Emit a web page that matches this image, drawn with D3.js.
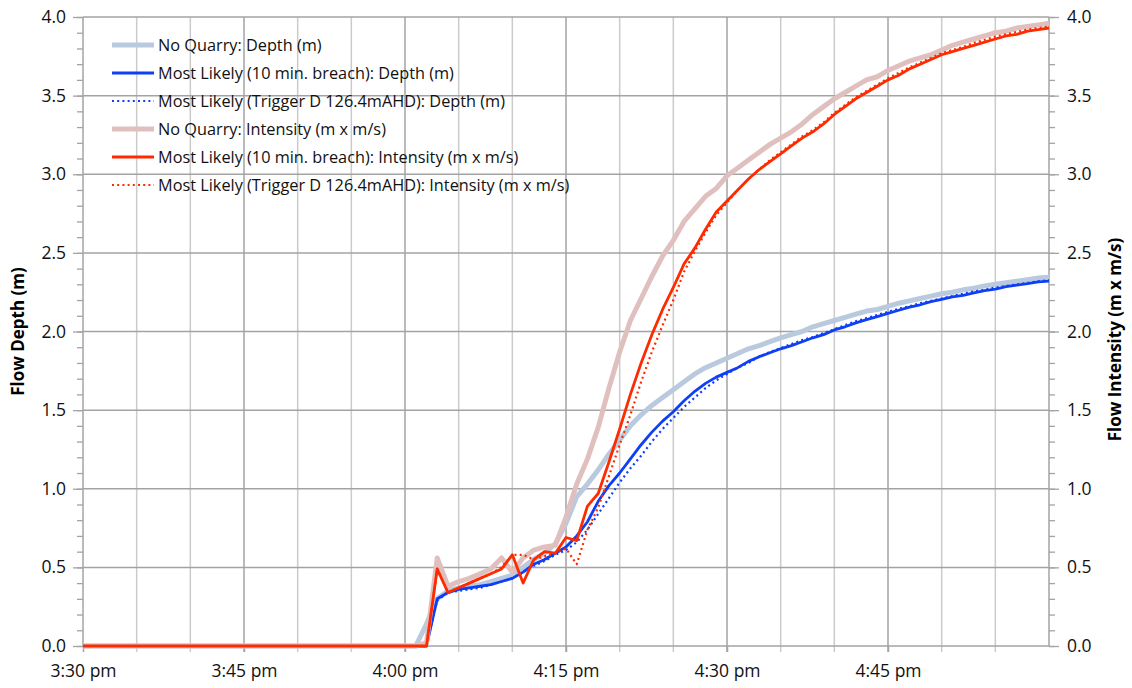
<!DOCTYPE html>
<html><head><meta charset="utf-8">
<script src="https://cdn.jsdelivr.net/npm/d3@7"></script>
<style>
html,body{margin:0;padding:0;background:#fff;}
svg{display:block;font-family:"Open Sans",sans-serif;}
</style></head>
<body><svg id="chart" width="1132" height="688"></svg>
<script>
// minutes after 3:30 pm
const minutes = [0,31,32,33,34,35,36,37,38,39,40,41,42,43,44,45,46,47,48,49,50,51,52,53,54,55,56,57,58,59,60,61,62,63,64,65,66,67,68,69,70,71,72,73,74,75,76,77,78,79,80,81,82,83,84,85,86,87,88,89,90];

const noQuarryDepth = [0,0.00,0.14,0.30,0.35,0.37,0.38,0.39,0.41,0.43,0.45,0.50,0.55,0.59,0.65,0.78,0.95,1.03,1.12,1.22,1.31,1.40,1.47,1.53,1.58,1.63,1.68,1.73,1.77,1.80,1.83,1.86,1.89,1.91,1.935,1.96,1.98,2.00,2.03,2.05,2.07,2.09,2.11,2.13,2.14,2.16,2.18,2.195,2.21,2.225,2.24,2.25,2.265,2.275,2.29,2.30,2.31,2.32,2.33,2.34,2.345];

const likelyDepth = [0,0.00,0.00,0.30,0.34,0.36,0.37,0.38,0.39,0.41,0.43,0.47,0.52,0.55,0.59,0.63,0.70,0.79,0.92,1.02,1.10,1.19,1.28,1.36,1.43,1.49,1.56,1.62,1.67,1.71,1.74,1.77,1.81,1.84,1.865,1.89,1.91,1.935,1.96,1.98,2.01,2.03,2.055,2.075,2.095,2.115,2.135,2.155,2.17,2.19,2.205,2.22,2.23,2.245,2.26,2.27,2.285,2.295,2.305,2.315,2.32];

const triggerDepth = [0,0.00,0.00,0.29,0.34,0.35,0.36,0.37,0.39,0.41,0.43,0.47,0.51,0.54,0.58,0.61,0.66,0.74,0.84,0.94,1.04,1.13,1.21,1.30,1.38,1.45,1.52,1.58,1.64,1.69,1.73,1.77,1.80,1.84,1.87,1.895,1.92,1.945,1.965,1.99,2.015,2.04,2.065,2.085,2.105,2.125,2.145,2.16,2.18,2.195,2.21,2.225,2.24,2.255,2.265,2.28,2.29,2.30,2.31,2.32,2.325];

const noQuarryIntensity = [0,0.00,0.02,0.56,0.38,0.41,0.43,0.46,0.49,0.56,0.47,0.56,0.61,0.63,0.64,0.82,1.03,1.19,1.39,1.64,1.87,2.07,2.21,2.35,2.48,2.58,2.70,2.78,2.86,2.91,2.99,3.04,3.09,3.14,3.19,3.23,3.27,3.32,3.38,3.43,3.48,3.52,3.56,3.60,3.62,3.66,3.69,3.72,3.74,3.76,3.79,3.82,3.84,3.86,3.88,3.90,3.91,3.93,3.94,3.95,3.96];

const likelyIntensity = [0,0.00,0.00,0.49,0.34,0.37,0.40,0.43,0.46,0.49,0.58,0.40,0.55,0.60,0.59,0.69,0.67,0.89,0.97,1.17,1.38,1.60,1.80,1.98,2.14,2.28,2.43,2.53,2.65,2.76,2.83,2.90,2.97,3.03,3.08,3.13,3.18,3.23,3.27,3.32,3.38,3.43,3.48,3.52,3.56,3.60,3.63,3.67,3.70,3.73,3.76,3.78,3.80,3.82,3.84,3.86,3.88,3.89,3.91,3.92,3.93];

const triggerIntensity = [0,0.00,0.00,0.49,0.34,0.37,0.40,0.43,0.46,0.50,0.58,0.58,0.55,0.57,0.59,0.62,0.52,0.74,0.88,1.08,1.28,1.47,1.68,1.87,2.04,2.20,2.38,2.51,2.63,2.74,2.82,2.90,2.97,3.03,3.09,3.14,3.19,3.24,3.28,3.33,3.39,3.44,3.49,3.53,3.57,3.61,3.645,3.68,3.71,3.74,3.77,3.79,3.81,3.835,3.855,3.875,3.89,3.905,3.92,3.93,3.94];

const seriesNames = [
  "No Quarry: Depth (m)",
  "Most Likely (10 min. breach): Depth (m)",
  "Most Likely (Trigger D 126.4mAHD): Depth (m)",
  "No Quarry: Intensity (m x m/s)",
  "Most Likely (10 min. breach): Intensity (m x m/s)",
  "Most Likely (Trigger D 126.4mAHD): Intensity (m x m/s)"
];
const seriesValues = [noQuarryDepth, likelyDepth, triggerDepth, noQuarryIntensity, likelyIntensity, triggerIntensity];
const seriesAxis = ["left","left","left","right","right","right"];
const seriesColors = ["#b9cadf","#0f3ff5","#0f3ff5","#e0c0bf","#ff2b00","#ff2b00"];
const seriesWidths = [5,2.8,2.2,5,2.8,2.2];
const seriesDash = [null,null,"2,3.2",null,null,"2,3.2"];

const xTickMinutes = [0,15,30,45,60,75];
const xTickLabels = ["3:30 pm","3:45 pm","4:00 pm","4:15 pm","4:30 pm","4:45 pm"];
const yTicks = [0,0.5,1.0,1.5,2.0,2.5,3.0,3.5,4.0];
const leftTitle = "Flow Depth (m)";
const rightTitle = "Flow Intensity (m x m/s)";

const svg = d3.select("#chart");
const L = 83, R = 1049, T = 17, B = 646;
const x = d3.scaleLinear().domain([0,90]).range([L,R]);
const yL = d3.scaleLinear().domain([0,4]).range([B,T]);
const yR = d3.scaleLinear().domain([0,4]).range([B,T]);

// gridlines
const g = svg.append("g");
const minorX = d3.range(0,91,5);
g.selectAll("line.vminor").data(minorX.filter(m=>m%15!==0 && m!==90)).enter().append("line")
  .attr("x1",d=>x(d)).attr("x2",d=>x(d)).attr("y1",T).attr("y2",B+6)
  .attr("stroke","#cbcbcb").attr("stroke-width",1.5);
g.selectAll("line.vmajor").data(xTickMinutes.filter(m=>m!==0)).enter().append("line")
  .attr("x1",d=>x(d)).attr("x2",d=>x(d)).attr("y1",T).attr("y2",B+6)
  .attr("stroke","#a3a3a3").attr("stroke-width",1.5);
g.selectAll("line.h").data(yTicks.filter(v=>v>0)).enter().append("line")
  .attr("x1",L).attr("x2",R).attr("y1",d=>yL(d)).attr("y2",d=>yL(d))
  .attr("stroke","#a3a3a3").attr("stroke-width",1.5);

// axes
const minorY = d3.range(0,4.001,0.1);
const leftAxis = d3.axisLeft(yL).tickValues(minorY).tickSize(6).tickFormat("");
const la = svg.append("g").attr("transform",`translate(${L},0)`).call(leftAxis);
la.select(".domain").remove();
la.selectAll("line").attr("stroke","#a3a3a3").attr("stroke-width",1.3);
const leftLabels = d3.axisLeft(yL).tickValues(yTicks).tickSize(10).tickPadding(7).tickFormat(d3.format(".1f"));
const ll = svg.append("g").attr("transform",`translate(${L},0)`).call(leftLabels);
ll.select(".domain").attr("stroke","#a3a3a3").attr("stroke-width",1.5).attr("d",`M0,${T}V${B}`);
ll.selectAll("line").attr("stroke","#a3a3a3").attr("stroke-width",1.3);
ll.selectAll("text").attr("font-size",17.5).attr("fill","#111").attr("font-family","Open Sans");

const rightAxis = d3.axisRight(yR).tickValues(minorY).tickSize(6).tickFormat("");
const ra = svg.append("g").attr("transform",`translate(${R},0)`).call(rightAxis);
ra.select(".domain").remove();
ra.selectAll("line").attr("stroke","#a3a3a3").attr("stroke-width",1.3);
const rightLabels = d3.axisRight(yR).tickValues(yTicks).tickSize(10).tickPadding(8).tickFormat(d3.format(".1f"));
const rl = svg.append("g").attr("transform",`translate(${R},0)`).call(rightLabels);
rl.select(".domain").attr("stroke","#a3a3a3").attr("stroke-width",1.5).attr("d",`M0,${T}V${B}`);
rl.selectAll("line").attr("stroke","#a3a3a3").attr("stroke-width",1.3);
rl.selectAll("text").attr("font-size",17.5).attr("fill","#111").attr("font-family","Open Sans");

const xAxis = d3.axisBottom(x).tickValues(xTickMinutes).tickSize(6).tickPadding(13)
  .tickFormat((d,i)=>xTickLabels[i]);
const xa = svg.append("g").attr("transform",`translate(0,${B})`).call(xAxis);
xa.select(".domain").attr("stroke","#a3a3a3").attr("stroke-width",1.5).attr("d",`M${L},0H${R}`);
xa.selectAll("line").attr("stroke","#a3a3a3").attr("stroke-width",1.5);
xa.selectAll("text").attr("font-size",17.5).attr("fill","#111").attr("font-family","Open Sans");

// titles
svg.append("text").attr("transform",`translate(24,${(T+B)/2}) rotate(-90)`)
  .attr("text-anchor","middle").attr("font-size",17).attr("font-weight","bold").attr("fill","#000")
  .text(leftTitle);
svg.append("text").attr("transform",`translate(1121,${(T+B)/2 + 8}) rotate(-90)`)
  .attr("text-anchor","middle").attr("font-size",17).attr("font-weight","bold").attr("fill","#000")
  .text(rightTitle);

// series
const clip = svg.append("clipPath").attr("id","pc").append("rect").attr("x",L).attr("y",T-4).attr("width",R-L+1).attr("height",B-T+8);
const lines = svg.append("g").attr("clip-path","url(#pc)");
seriesValues.forEach((vals,i)=>{
  const ys = seriesAxis[i]==="left"?yL:yR;
  const line = d3.line().x((d,j)=>x(minutes[j])).y(d=>ys(d));
  lines.append("path").datum(vals).attr("d",line)
    .attr("fill","none").attr("stroke",seriesColors[i]).attr("stroke-width",seriesWidths[i])
    .attr("stroke-linejoin","round")
    .attr("stroke-dasharray",seriesDash[i]);
});

// legend
const lg = svg.append("g");
seriesNames.forEach((name,i)=>{
  const yy = 45 + i*28;
  lg.append("line").attr("x1",112).attr("x2",154).attr("y1",yy).attr("y2",yy)
    .attr("stroke",seriesColors[i]).attr("stroke-width",seriesWidths[i])
    .attr("stroke-dasharray",seriesDash[i]);
  lg.append("text").attr("x",158).attr("y",yy).attr("dy","0.35em")
    .attr("font-size",16.3).attr("fill","#111").text(name);
});
</script></body></html>
